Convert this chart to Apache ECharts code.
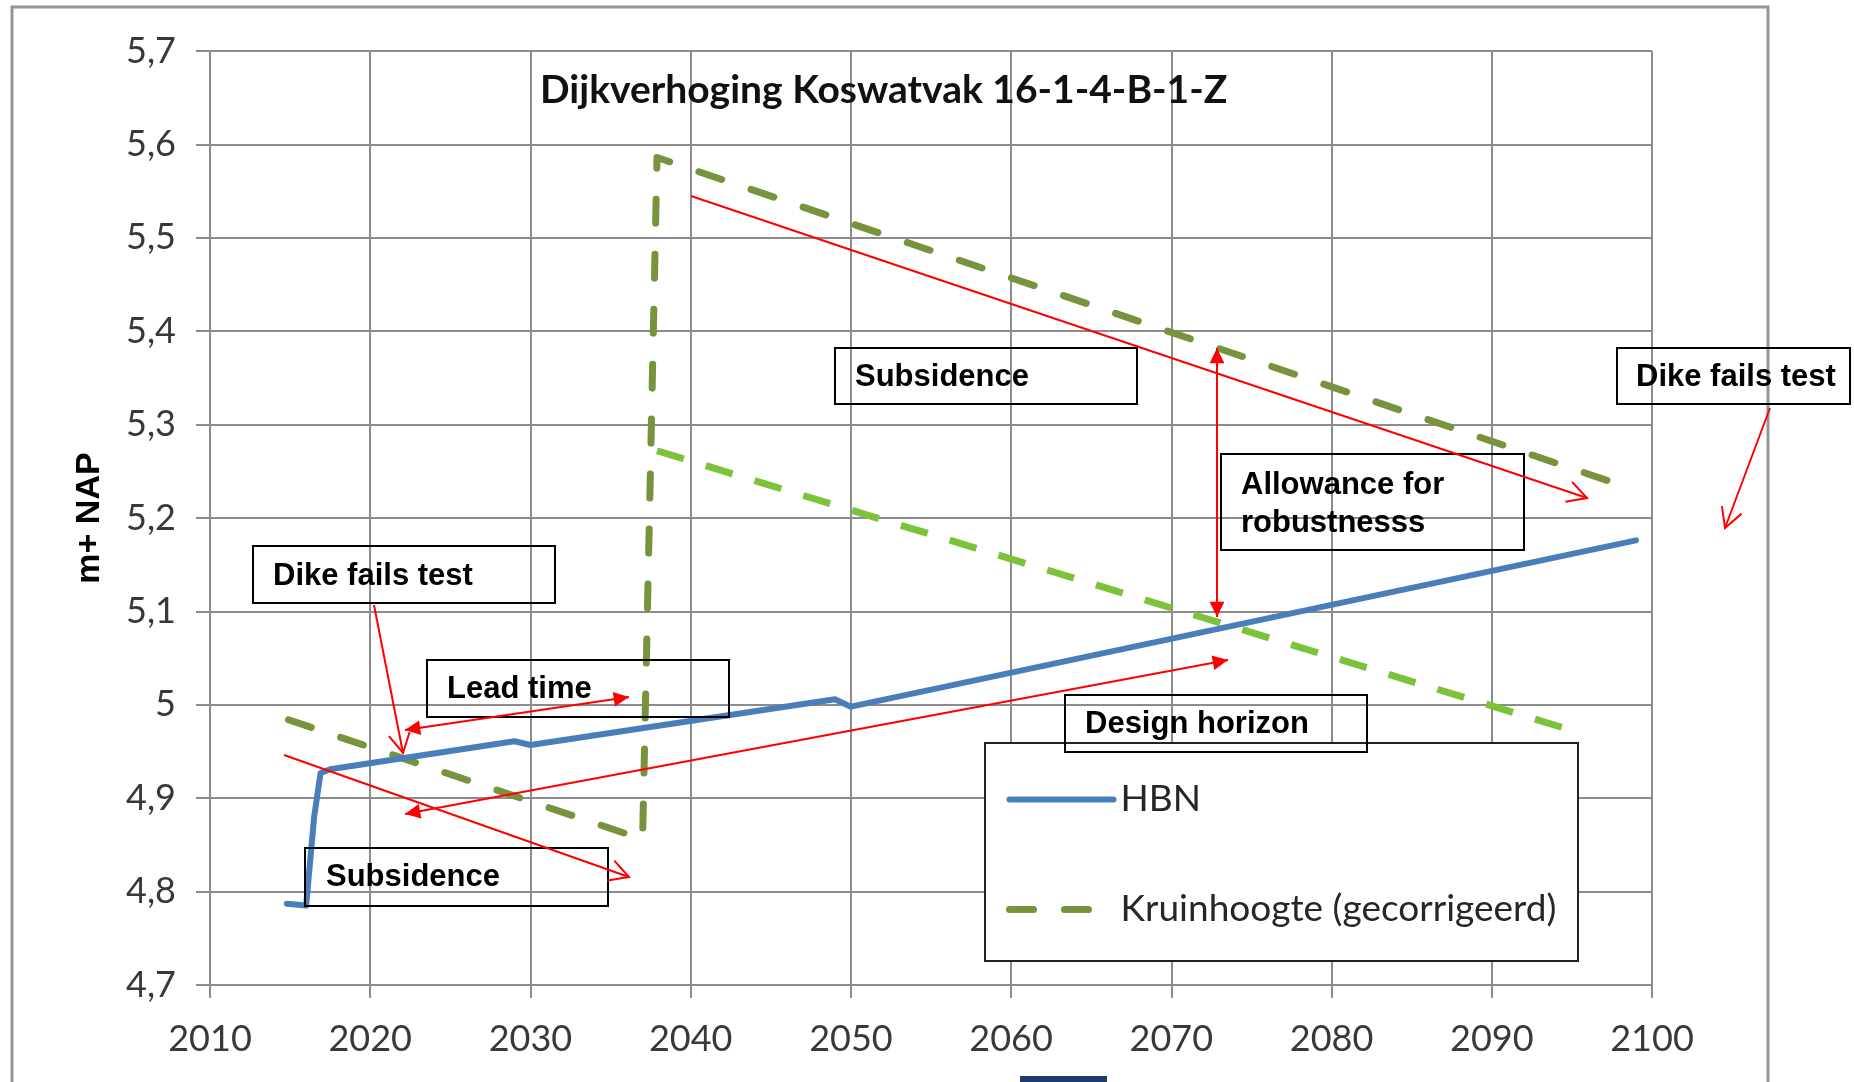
<!DOCTYPE html>
<html>
<head>
<meta charset="utf-8">
<script src="https://cdn.jsdelivr.net/npm/echarts@6/dist/echarts.min.js"></script>
<style>
  html, body { margin: 0; padding: 0; background: #fff; }
  #main { width: 1854px; height: 1082px; }
</style>
</head>
<body>
<div id="main"></div>
<script>
// data
var hbnYears = [2014.8, 2016.0, 2016.5, 2016.9, 2017.5, 2029.0, 2030.0, 2049.0, 2050.0, 2099.0];
var hbnValues = [4.787, 4.785, 4.880, 4.927, 4.931, 4.961, 4.957, 5.006, 4.998, 5.176];

var kruinYears = [2014.9, 2037.0, 2037.9, 2098.6];
var kruinValues = [4.984, 4.856, 5.586, 5.232];

var kruinNewYears = [2037.9, 2095.5];
var kruinNewValues = [5.272, 4.970];

var yearTicks = [2010, 2100, 10];
var heightTicks = [4.7, 5.7, 0.1];

function zip(xs, ys) {
    return xs.map(function(x, i) { return [x, ys[i]]; });
}

var red = '#ff0000';
var boxFont = 'bold 31px "Liberation Sans", Arial, sans-serif';

// pijlpunten
function arrowHead(fx, fy, tx, ty, filled) {
    var a = Math.atan2(ty - fy, tx - fx);
    var len = filled ? 17 : 22;
    var spread = filled ? 0.45 : 0.5;
    var p1 = [tx - len * Math.cos(a - spread), ty - len * Math.sin(a - spread)];
    var p2 = [tx - len * Math.cos(a + spread), ty - len * Math.sin(a + spread)];
    if (filled) {
        return { type: 'polygon', z: 20, shape: { points: [p1, [tx, ty], p2] }, style: { fill: red } };
    }
    return { type: 'polyline', z: 20, shape: { points: [p1, [tx, ty], p2] }, style: { stroke: red, lineWidth: 2, fill: null } };
}

function arrow(x1, y1, x2, y2, kind) {
    var els = [{ type: 'line', z: 20, shape: { x1: x1, y1: y1, x2: x2, y2: y2 }, style: { stroke: red, lineWidth: 2 } }];
    if (kind == 'open') {
        els.push(arrowHead(x1, y1, x2, y2, false));
    } else if (kind == 'double') {
        els.push(arrowHead(x1, y1, x2, y2, true));
        els.push(arrowHead(x2, y2, x1, y1, true));
    }
    return els;
}

function box(x, y, w, h, text, tx, ty) {
    return [
        { type: 'rect', z: 15, shape: { x: x, y: y, width: w, height: h }, style: { fill: null, stroke: '#000', lineWidth: 2 } },
        { type: 'text', z: 16, x: tx, y: ty, style: { text: text, font: boxFont, fill: '#000', verticalAlign: 'middle', lineHeight: 38 } }
    ];
}

var notes = [];
// kader rond de figuur
notes.push({ type: 'rect', z: 1, shape: { x: 12, y: 7, width: 1756, height: 1100 }, style: { fill: null, stroke: '#959595', lineWidth: 3 } });
notes.push({ type: 'rect', z: 1, shape: { x: 1020, y: 1076, width: 87, height: 8 }, style: { fill: '#1f3c6c' } });
// legenda achtergrond
notes.push({ type: 'rect', z: 5, shape: { x: 985, y: 743, width: 593, height: 218 }, style: { fill: '#fff', stroke: '#222', lineWidth: 2 } });

notes = notes
    .concat(box(835, 348, 302, 56, 'Subsidence', 855, 377))
    .concat(box(1617, 348, 233, 56, 'Dike fails test', 1636, 377))
    .concat(box(1221, 454, 303, 96, 'Allowance for\nrobustnesss', 1241, 504))
    .concat(box(253, 546, 302, 57, 'Dike fails test', 273, 576))
    .concat(box(427, 660, 302, 57, 'Lead time', 447, 689))
    .concat(box(1065, 695, 302, 57, 'Design horizon', 1085, 724))
    .concat(box(305, 848, 303, 58, 'Subsidence', 326, 877))
    .concat(arrow(691, 196, 1587, 498, 'open'))
    .concat(arrow(1770, 408, 1725, 528, 'open'))
    .concat(arrow(1217, 348, 1217, 617, 'double'))
    .concat(arrow(374, 605, 403, 753, 'open'))
    .concat(arrow(405, 730, 629, 697, 'double'))
    .concat(arrow(405, 814, 1228, 660, 'double'))
    .concat(arrow(284, 755, 629, 877, 'open'));

var myChart = echarts.init(document.getElementById('main'));
var axisColor = '#8c8c8c';
var option = {
    animation: false,
    backgroundColor: '#fff',
    title: {
        text: 'Dijkverhoging Koswatvak 16-1-4-B-1-Z',
        left: 535,
        top: 66,
        textStyle: { fontFamily: 'Lato', fontWeight: 'bold', fontSize: 39, color: '#111' }
    },
    grid: { left: 210, right: 202, top: 51, bottom: 97 },
    legend: {
        orient: 'vertical',
        left: 1006,
        top: 781,
        padding: 0,
        z: 6,
        itemGap: 73,
        itemWidth: 104,
        itemHeight: 14,
        itemStyle: { opacity: 0 },
        lineStyle: { width: 'inherit' },
        data: ['HBN', 'Kruinhoogte (gecorrigeerd)'],
        textStyle: { fontFamily: 'Lato', fontSize: 37, color: '#262626', padding: [0, 0, 0, 2] }
    },
    xAxis: {
        type: 'value',
        min: yearTicks[0],
        max: yearTicks[1],
        interval: yearTicks[2],
        axisLine: { lineStyle: { color: axisColor, width: 2 } },
        axisTick: { length: 13, lineStyle: { color: axisColor, width: 2 } },
        splitLine: { lineStyle: { color: axisColor, width: 2 } },
        axisLabel: {
            margin: 36,
            fontFamily: 'Lato',
            fontSize: 36,
            color: '#383838',
            formatter: function(v) { return String(v); }
        }
    },
    yAxis: {
        type: 'value',
        min: heightTicks[0],
        max: heightTicks[1],
        interval: heightTicks[2],
        name: 'm+ NAP',
        nameLocation: 'middle',
        nameGap: 103,
        nameTextStyle: { fontFamily: '"Liberation Sans", Arial', fontWeight: 'bold', fontSize: 34, color: '#000' },
        axisLine: { show: true, lineStyle: { color: axisColor, width: 2 } },
        axisTick: { show: true, length: 14, lineStyle: { color: axisColor, width: 2 } },
        splitLine: { lineStyle: { color: axisColor, width: 2 } },
        axisLabel: {
            margin: 34,
            fontFamily: 'Lato',
            fontSize: 36,
            color: '#383838',
            formatter: function(v) { return String(+v.toFixed(1)).replace('.', ','); }
        }
    },
    series: [{
        name: 'HBN',
        type: 'line',
        showSymbol: false,
        symbol: 'none',
        z: 4,
        color: '#4a7ebb',
        lineStyle: { width: 6, color: '#4a7ebb', join: 'round', cap: 'round' },
        data: zip(hbnYears, hbnValues)
    }, {
        name: 'Kruinhoogte (gecorrigeerd)',
        type: 'line',
        showSymbol: false,
        symbol: 'none',
        z: 3,
        color: '#77933c',
        lineStyle: { width: 7, color: '#77933c', type: [24, 31], cap: 'round', join: 'round' },
        data: zip(kruinYears, kruinValues)
    }, {
        name: 'Kruinhoogte nieuw',
        type: 'line',
        showSymbol: false,
        symbol: 'none',
        z: 3,
        color: '#7dc23b',
        lineStyle: { width: 7, color: '#7dc23b', type: [28, 23] },
        data: zip(kruinNewYears, kruinNewValues)
    }],
    graphic: notes
};
myChart.setOption(option);
</script>
</body>
</html>
